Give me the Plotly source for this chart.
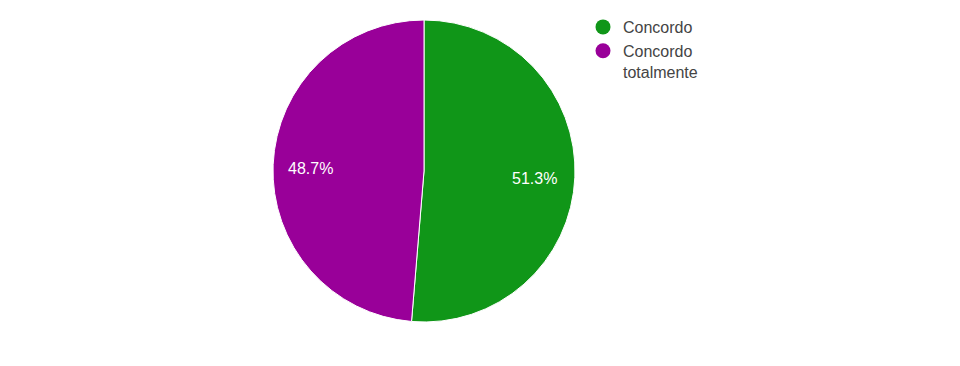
import math
import plotly.graph_objects as go

labels = ["Concordo", "Concordo totalmente"]
legend_names = ["Concordo", "Concordo<br>totalmente"]
values = [39, 37]
colors = ["#109618", "#990099"]

W, H = 960, 366
cx, cy, r = 424, 171, 151
dx, dy = -8, -8  # compensation for plotly's placement of the pie inside its domain
FONT = "Liberation Sans, Arial"

fig = go.Figure()
fig.add_trace(go.Pie(
    labels=labels, values=values, sort=False, direction="clockwise", rotation=0,
    marker=dict(colors=colors, line=dict(color="white", width=1)),
    textinfo="none", showlegend=False, hoverinfo="label+percent",
    domain=dict(x=[(cx + dx - r) / W, (cx + dx + r) / W],
                y=[1 - (cy + dy + r) / H, 1 - (cy + dy - r) / H]),
))
for name, c in zip(legend_names, colors):
    fig.add_trace(go.Scatter(x=[None], y=[None], mode="markers", name=name,
                             marker=dict(color=c, size=15, symbol="circle")))

# percent labels placed at slice mid-angles (clockwise from 12 o'clock)
total = sum(values)
cum = 0
rl = 0.74 * r
lx_off, ly_off = -9.5, -5.5
for v in values:
    mid = (cum + v / 2) / total * 2 * math.pi
    cum += v
    px = cx + rl * math.sin(mid) + lx_off
    py = cy - rl * math.cos(mid) + ly_off
    fig.add_annotation(x=px / W, y=1 - py / H, xref="paper", yref="paper",
                       text=f"{v / total * 100:.1f}%", showarrow=False,
                       font=dict(color="white", size=16, family=FONT),
                       xanchor="center", yanchor="middle")

fig.update_layout(
    width=W, height=H, margin=dict(l=0, r=0, t=0, b=0),
    paper_bgcolor="white", plot_bgcolor="white",
    xaxis=dict(visible=False), yaxis=dict(visible=False),
    legend=dict(x=575 / W, y=1 - 2 / H, xanchor="left", yanchor="top",
                font=dict(family=FONT, size=16, color="#444444"),
                itemwidth=30, tracegroupgap=2, valign="top",
                bgcolor="rgba(0,0,0,0)"),
)
fig.write_html("out.html")
